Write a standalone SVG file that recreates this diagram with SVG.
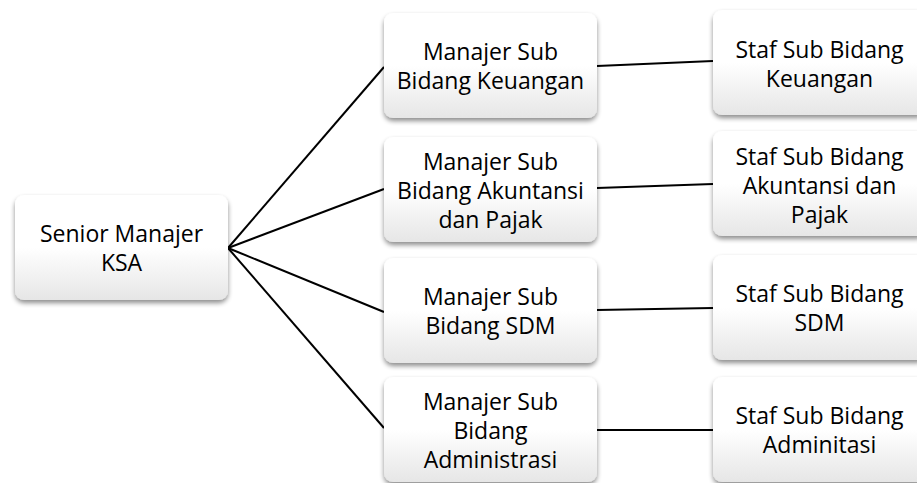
<svg xmlns="http://www.w3.org/2000/svg" width="917" height="483" viewBox="0 0 917 483">
<style>
.box{fill:url(#g);filter:url(#sh)}
.t{font-family:"Open Sans","Noto Sans","Liberation Sans",sans-serif;font-size:23px;fill:#000;text-anchor:middle}
.c{stroke:#000;stroke-width:2;fill:none}
</style>
<defs>
<linearGradient id="g" x1="0" y1="0" x2="0" y2="1">
<stop offset="0" stop-color="#ffffff"/>
<stop offset="0.5" stop-color="#ffffff"/>
<stop offset="1" stop-color="#e6e6e6"/>
</linearGradient>
<filter id="sh" x="-10%" y="-10%" width="120%" height="130%">
<feGaussianBlur in="SourceAlpha" stdDeviation="2.5"/>
<feOffset dx="0" dy="3" result="b"/>
<feComponentTransfer><feFuncA type="linear" slope="0.45"/></feComponentTransfer>
<feMerge><feMergeNode/><feMergeNode in="SourceGraphic"/></feMerge>
</filter>
</defs>
<rect width="917" height="483" fill="#fff"/>
<g id="connectors">
<line class="c" x1="228" y1="248" x2="384" y2="67"/>
<line class="c" x1="228" y1="248" x2="384" y2="189"/>
<line class="c" x1="228" y1="248" x2="384" y2="312"/>
<line class="c" x1="228" y1="248" x2="384" y2="428"/>
<line class="c" x1="597" y1="66" x2="713" y2="61"/>
<line class="c" x1="597" y1="188" x2="713" y2="184"/>
<line class="c" x1="597" y1="310" x2="713" y2="308"/>
<line class="c" x1="597" y1="430" x2="713" y2="430"/>
</g>
<g id="senior">
<rect class="box" x="15" y="195" width="213" height="105" rx="9"/>
<text class="t" x="121.5" y="242">Senior Manajer</text>
<text class="t" x="121.5" y="271">KSA</text>
</g>
<g id="m-keuangan">
<rect class="box" x="384" y="13" width="213" height="105" rx="9"/>
<text class="t" x="490.5" y="60">Manajer Sub</text>
<text class="t" x="490.5" y="89">Bidang Keuangan</text>
</g>
<g id="m-akuntansi">
<rect class="box" x="384" y="137" width="213" height="105" rx="9"/>
<text class="t" x="490.5" y="170">Manajer Sub</text>
<text class="t" x="490.5" y="199">Bidang Akuntansi</text>
<text class="t" x="490.5" y="228">dan Pajak</text>
</g>
<g id="m-sdm">
<rect class="box" x="384" y="258" width="213" height="105" rx="9"/>
<text class="t" x="490.5" y="305">Manajer Sub</text>
<text class="t" x="490.5" y="334">Bidang SDM</text>
</g>
<g id="m-admin">
<rect class="box" x="384" y="377" width="213" height="105" rx="9"/>
<text class="t" x="490.5" y="410">Manajer Sub</text>
<text class="t" x="490.5" y="439">Bidang</text>
<text class="t" x="490.5" y="468">Administrasi</text>
</g>
<g id="s-keuangan">
<rect class="box" x="713" y="10" width="213" height="105" rx="9"/>
<text class="t" x="819.5" y="58">Staf Sub Bidang</text>
<text class="t" x="819.5" y="87">Keuangan</text>
</g>
<g id="s-akuntansi">
<rect class="box" x="713" y="131" width="213" height="105" rx="9"/>
<text class="t" x="819.5" y="164.5">Staf Sub Bidang</text>
<text class="t" x="819.5" y="193.5">Akuntansi dan</text>
<text class="t" x="819.5" y="222.5">Pajak</text>
</g>
<g id="s-sdm">
<rect class="box" x="713" y="255" width="213" height="105" rx="9"/>
<text class="t" x="819.5" y="302">Staf Sub Bidang</text>
<text class="t" x="819.5" y="331">SDM</text>
</g>
<g id="s-admin">
<rect class="box" x="713" y="377" width="213" height="105" rx="9"/>
<text class="t" x="819.5" y="424">Staf Sub Bidang</text>
<text class="t" x="819.5" y="453">Adminitasi</text>
</g>
</svg>
